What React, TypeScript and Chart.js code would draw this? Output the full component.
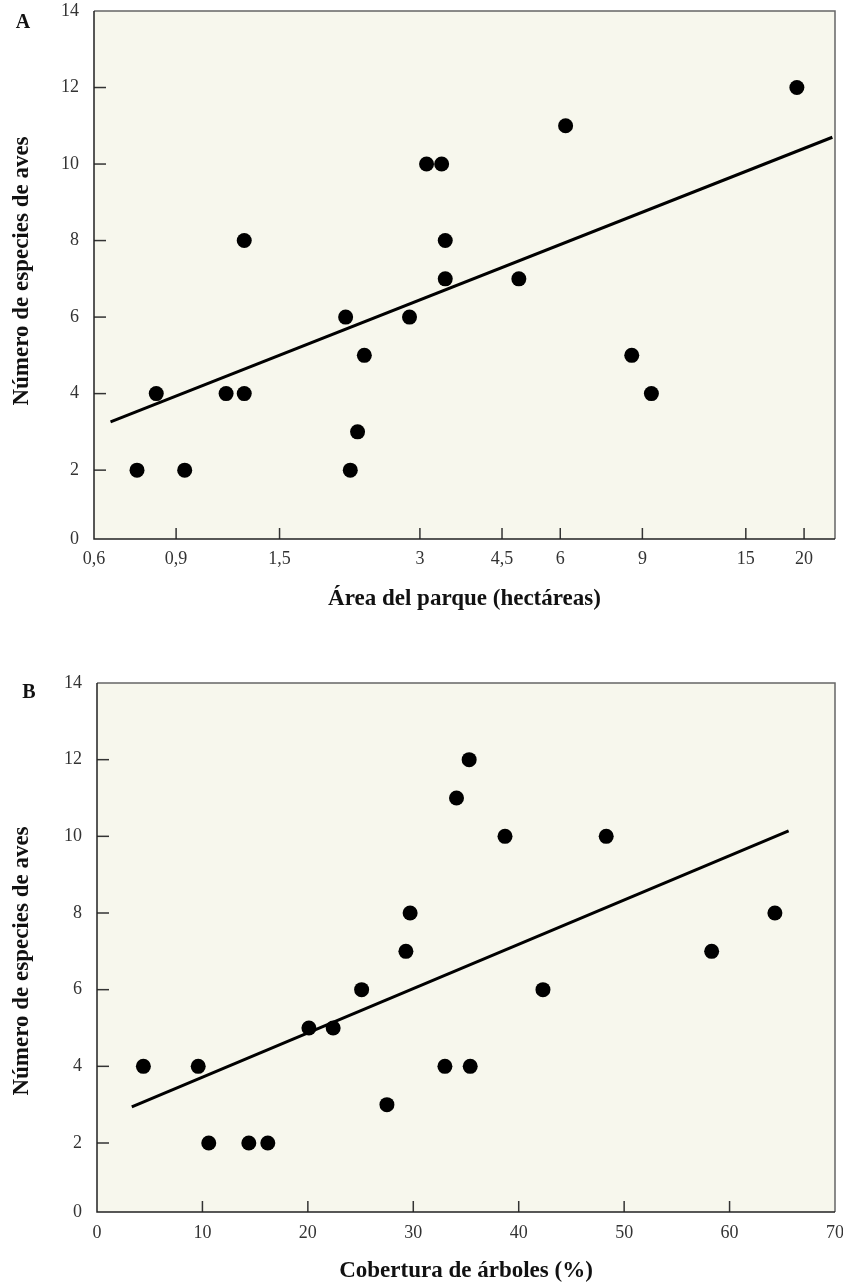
import React, { useEffect, useRef } from 'react';
import { Chart, registerables } from 'chart.js';

Chart.register(...registerables);

const FONT = '"Liberation Serif", "Times New Roman", serif';

// ---------- Panel A: bird species vs park area (log x) ----------
const areaHa = [0.742, 0.816, 0.939, 1.152, 1.26, 1.26, 2.079, 2.127, 2.205, 2.28, 2.85, 3.1, 3.34, 3.4, 3.4, 4.89, 6.16, 8.54, 9.41, 19.3];
const especiesA = [2, 4, 2, 4, 4, 8, 6, 2, 3, 5, 6, 10, 10, 8, 7, 7, 11, 5, 4, 12];
const ajusteAreaX = [0.651, 23.0];
const ajusteAreaY = [3.26, 10.7];
const ticksArea = [0.6, 0.9, 1.5, 3, 4.5, 6, 9, 15, 20];

// ---------- Panel B: bird species vs tree cover ----------
const coberturaPct = [4.4, 9.6, 10.6, 14.4, 16.2, 20.1, 22.4, 25.1, 27.5, 29.3, 29.7, 33.0, 35.4, 34.1, 35.3, 38.7, 42.3, 48.3, 58.3, 64.3];
const especiesB = [4, 4, 2, 2, 2, 5, 5, 6, 3, 7, 8, 4, 4, 11, 12, 10, 6, 10, 7, 8];
const ajusteCobX = [3.3, 65.6];
const ajusteCobY = [2.94, 10.14];
const ticksCob = [0, 10, 20, 30, 40, 50, 60, 70];

const ticksEspecies = [0, 2, 4, 6, 8, 10, 12, 14];
const Y_MIN = 0.2;
const Y_MAX = 14;
const Y_TITLE = 'Número de especies de aves';

const framePlugin = {
  id: 'frame',
  beforeDraw(chart: any) {
    const { ctx, chartArea: a } = chart;
    ctx.save();
    ctx.fillStyle = '#f7f7ed';
    ctx.fillRect(a.left, a.top, a.right - a.left, a.bottom - a.top);
    ctx.restore();
  },
  afterDraw(chart: any) {
    const { ctx, chartArea: a } = chart;
    const opts = chart.options.plugins.frame || {};
    ctx.save();
    // inward ticks
    ctx.strokeStyle = '#333';
    ctx.lineWidth = 1.5;
    const xs = chart.scales.x;
    const ys = chart.scales.y;
    xs.ticks.forEach((t: any) => {
      const px = xs.getPixelForValue(t.value);
      if (px - a.left < 2 || a.right - px < 2) return;
      ctx.beginPath();
      ctx.moveTo(px, a.bottom);
      ctx.lineTo(px, a.bottom - 11);
      ctx.stroke();
    });
    ys.ticks.forEach((t: any) => {
      const py = ys.getPixelForValue(t.value);
      if (py - a.top < 2 || a.bottom - py < 2) return;
      ctx.beginPath();
      ctx.moveTo(a.left, py);
      ctx.lineTo(a.left + 12, py);
      ctx.stroke();
    });
    // frame: top/right lighter, left/bottom darker
    ctx.lineWidth = 1.5;
    ctx.strokeStyle = '#666';
    ctx.beginPath();
    ctx.moveTo(a.left, a.top);
    ctx.lineTo(a.right, a.top);
    ctx.lineTo(a.right, a.bottom);
    ctx.stroke();
    ctx.strokeStyle = '#222';
    ctx.beginPath();
    ctx.moveTo(a.left, a.top);
    ctx.lineTo(a.left, a.bottom);
    ctx.lineTo(a.right, a.bottom);
    ctx.stroke();
    // y title
    ctx.fillStyle = '#111';
    ctx.font = 'bold 23px ' + FONT;
    ctx.textAlign = 'center';
    ctx.textBaseline = 'middle';
    ctx.save();
    ctx.translate(opts.tx, opts.ty);
    ctx.rotate(-Math.PI / 2);
    ctx.fillText(Y_TITLE, 0, 0);
    ctx.restore();
    // panel letter
    ctx.font = 'bold 20px ' + FONT;
    ctx.fillText(opts.letter, opts.lx, opts.ly);
    ctx.restore();
  },
};

function makeConfig(p: {
  xs: number[]; ys: number[]; fx: number[]; fy: number[];
  xType: string; xMin: number; xMax: number; xTicks: number[];
  xTitle: string; padTop: number; xAxisH: number; yAxisW: number;
  xTitlePad: number; xTickPad: number; letter: string; lx: number; ly: number;
  tx: number; ty: number;
}): any {
  return {
    type: 'scatter',
    data: {
      datasets: [
        {
          type: 'line',
          data: p.fx.map((x, i) => ({ x, y: p.fy[i] })),
          borderColor: '#000',
          borderWidth: 3,
          pointRadius: 0,
          fill: false,
        },
        {
          data: p.xs.map((x, i) => ({ x, y: p.ys[i] })),
          backgroundColor: '#000',
          borderWidth: 0,
          pointRadius: 7.5,
          pointHoverRadius: 7.5,
        },
      ],
    },
    options: {
      responsive: false,
      animation: false,
      events: [],
      layout: { padding: { top: p.padTop, right: 8, left: 0, bottom: 0 } },
      plugins: {
        legend: { display: false },
        tooltip: { enabled: false },
        frame: { letter: p.letter, lx: p.lx, ly: p.ly, tx: p.tx, ty: p.ty },
      },
      scales: {
        x: {
          type: p.xType,
          min: p.xMin,
          max: p.xMax,
          grid: { display: false, drawTicks: false },
          border: { display: false },
          afterBuildTicks: (s: any) => { s.ticks = p.xTicks.map((v) => ({ value: v })); },
          afterFit: (s: any) => { s.height = p.xAxisH; s.paddingLeft = 0; s.paddingRight = 0; },
          ticks: {
            autoSkip: false,
            maxRotation: 0,
            padding: p.xTickPad,
            color: '#333',
            font: { family: FONT, size: 18 },
            callback: (v: any) => String(v).replace('.', ','),
          },
          title: {
            display: true,
            text: p.xTitle,
            color: '#111',
            font: { family: FONT, size: 23, weight: 'bold' },
            padding: { top: 0, bottom: p.xTitlePad },
          },
        },
        y: {
          type: 'linear',
          min: Y_MIN,
          max: Y_MAX,
          grid: { display: false, drawTicks: false },
          border: { display: false },
          afterBuildTicks: (s: any) => { s.ticks = ticksEspecies.map((v) => ({ value: Math.max(v, Y_MIN) })); },
          afterFit: (s: any) => { s.width = p.yAxisW; s.paddingTop = 0; s.paddingBottom = 0; },
          ticks: {
            autoSkip: false,
            padding: 15,
            color: '#333',
            font: { family: FONT, size: 18 },
            callback: (v: any) => String(Math.round(v)),
          },
          title: { display: false },
        },
      },
    },
    plugins: [framePlugin],
  };
}

function Panel(props: { cfg: any; width: number; height: number; top: number }) {
  const ref = useRef<HTMLCanvasElement | null>(null);
  useEffect(() => {
    if (!ref.current) return;
    const chart = new Chart(ref.current, props.cfg);
    return () => chart.destroy();
  }, []);
  return (
    <canvas
      ref={ref}
      width={props.width}
      height={props.height}
      style={{ position: 'absolute', left: 0, top: props.top, width: props.width, height: props.height, display: 'block' }}
    />
  );
}

export default function App() {
  const cfgA = makeConfig({
    xs: areaHa, ys: especiesA, fx: ajusteAreaX, fy: ajusteAreaY,
    xType: 'logarithmic', xMin: 0.6, xMax: 23.3, xTicks: ticksArea,
    xTitle: 'Área del parque (hectáreas)', padTop: 11, xAxisH: 101, yAxisW: 94,
    xTitlePad: 27, xTickPad: 9, letter: 'A', lx: 23, ly: 23, tx: 22, ty: 271,
  });
  const cfgB = makeConfig({
    xs: coberturaPct, ys: especiesB, fx: ajusteCobX, fy: ajusteCobY,
    xType: 'linear', xMin: 0, xMax: 70, xTicks: ticksCob,
    xTitle: 'Cobertura de árboles (%)', padTop: 43, xAxisH: 75, yAxisW: 97,
    xTitlePad: 2, xTickPad: 10, letter: 'B', lx: 29, ly: 53, tx: 22, ty: 321,
  });
  return (
    <div style={{ position: 'absolute', left: 0, top: 0, width: 843, height: 1287, background: '#fff' }}>
      <Panel cfg={cfgA} width={843} height={640} top={0} />
      <Panel cfg={cfgB} width={843} height={647} top={640} />
    </div>
  );
}
